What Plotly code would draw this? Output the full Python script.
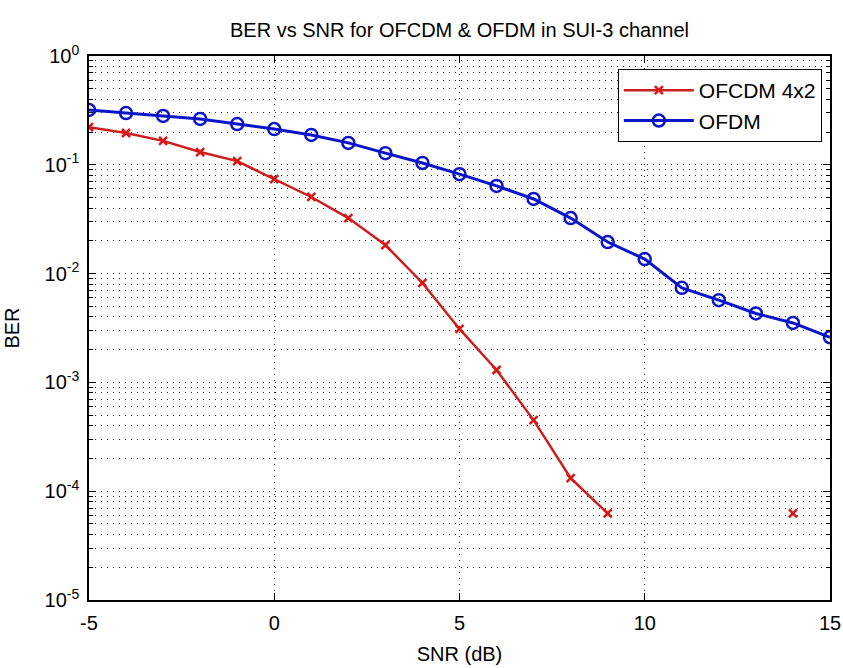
import plotly.graph_objects as go

snr = list(range(-5, 16))
ber_ofcdm = [0.222, 0.196, 0.166, 0.131, 0.108, 0.074, 0.0506, 0.0324, 0.0183, 0.0082,
             0.0031, 0.0013, 0.00045, 0.000132, 6.25e-5, None, None, None, None, 6.25e-5, None]
ber_ofdm = [0.319, 0.299, 0.281, 0.264, 0.237, 0.213, 0.188, 0.159, 0.128, 0.104,
            0.082, 0.064, 0.0485, 0.0324, 0.0195, 0.0136, 0.0074, 0.0057, 0.0043, 0.00352, 0.0026]

x_ticks = [-5, 0, 5, 10, 15]
y_tickvals = [1e-5, 1e-4, 1e-3, 1e-2, 1e-1, 1]
y_ticktext = ["10<sup>-5</sup>", "10<sup>-4</sup>", "10<sup>-3</sup>", "10<sup>-2</sup>",
              "10<sup>-1</sup>", "10<sup>0</sup>"]

FONT = "Liberation Sans Narrow, Liberation Sans, Arial, sans-serif"
GRID = "rgb(30,30,30)"

fig = go.Figure()
fig.add_trace(go.Scatter(
    x=snr, y=ber_ofcdm, mode="lines+markers", name="OFCDM 4x2",
    line=dict(color="rgb(205,30,30)", width=2.5),
    marker=dict(symbol="x-thin", size=8, line=dict(color="rgb(220,20,20)", width=2.5)),
))
fig.add_trace(go.Scatter(
    x=snr, y=ber_ofdm, mode="lines+markers", name="OFDM",
    line=dict(color="rgb(10,20,200)", width=3),
    marker=dict(symbol="circle-open", size=12, color="rgb(10,20,200)", line=dict(width=2.5)),
))

fig.update_layout(
    width=843, height=668,
    margin=dict(l=89, r=13, t=56, b=68),
    paper_bgcolor="white", plot_bgcolor="white",
    font=dict(family=FONT, size=20, color="black"),
    title=dict(text="BER vs SNR for OFCDM & OFDM in SUI-3 channel",
               x=0.5, xref="paper", xanchor="center",
               y=1 - 30 / 668, yref="container", yanchor="middle",
               font=dict(family=FONT, size=20, color="black")),
    legend=dict(x=0.989, y=0.976, xanchor="right", yanchor="top",
                bgcolor="white", bordercolor="black", borderwidth=1,
                font=dict(family=FONT, size=21), tracegroupgap=0,
                itemwidth=70),
    showlegend=True,
)

fig.update_xaxes(
    range=[-5, 15], tickvals=x_ticks, ticktext=[str(v) for v in x_ticks],
    title=dict(text="SNR (dB)", standoff=14, font=dict(size=20)),
    automargin=False,
    showline=True, linecolor="black", linewidth=1.5, mirror="allticks",
    ticks="inside", ticklen=7, tickcolor="black", ticklabelstandoff=4,
    showgrid=True, gridcolor=GRID, gridwidth=1, griddash="1px,5px",
    zeroline=False, tickfont=dict(size=20),
)
fig.update_yaxes(
    type="log", range=[-5, 0], tickvals=y_tickvals, ticktext=y_ticktext,
    title=dict(text="BER", standoff=20, font=dict(size=20)),
    automargin=False,
    showline=True, linecolor="black", linewidth=1.5, mirror="allticks",
    ticks="inside", ticklen=7, tickcolor="black", ticklabelstandoff=4,
    showgrid=True, gridcolor=GRID, gridwidth=1, griddash="1px,5px",
    minor=dict(dtick="D1", showgrid=True, gridcolor=GRID, gridwidth=1, griddash="1px,5px",
               ticks="inside", ticklen=4, tickcolor="black"),
    zeroline=False, tickfont=dict(size=20),
)

fig.write_html("out.html")
